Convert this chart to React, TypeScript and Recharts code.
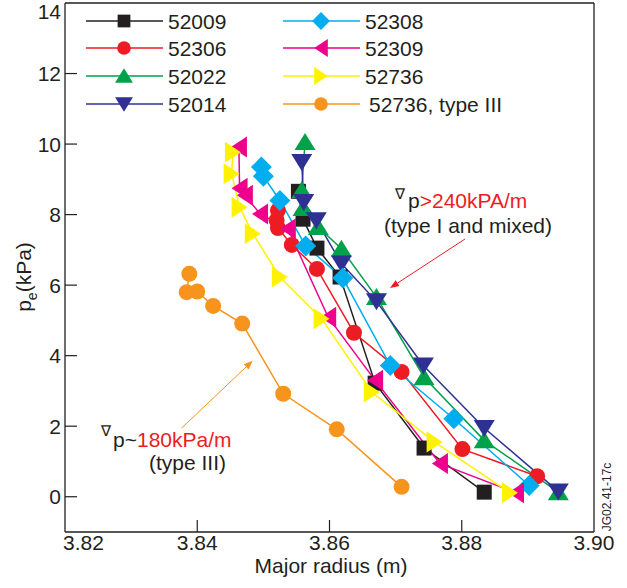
import React from 'react';
import { LineChart, Line, XAxis, YAxis, ReferenceLine } from 'recharts';

// series values (major radius in m, pe in kPa)
const x52009 = [3.8553, 3.856, 3.8581, 3.8616, 3.8669, 3.8743, 3.8834];
const y52009 = [8.66, 7.87, 7.05, 6.23, 3.22, 1.38, 0.13];

const x52306 = [3.8522, 3.852, 3.8522, 3.8543, 3.8581, 3.8637, 3.8709, 3.8801, 3.8914];
const y52306 = [8.12, 7.84, 7.62, 7.14, 6.46, 4.65, 3.54, 1.35, 0.58];

const x52022 = [3.8563, 3.8558, 3.856, 3.8583, 3.8618, 3.8671, 3.8743, 3.8834, 3.8946];
const y52022 = [10.06, 8.69, 8.19, 7.65, 7.03, 5.66, 3.39, 1.6, 0.13];

const x52014 = [3.8558, 3.8561, 3.858, 3.8618, 3.8671, 3.8742, 3.8834, 3.8946];
const y52014 = [9.49, 8.36, 7.84, 6.61, 5.54, 3.72, 1.95, 0.15];

const x52308 = [3.8497, 3.85, 3.8525, 3.8564, 3.862, 3.8692, 3.8788, 3.8902];
const y52308 = [9.35, 9.09, 8.4, 7.11, 6.2, 3.72, 2.21, 0.32];

const x52309 = [3.8463, 3.8464, 3.8472, 3.8495, 3.8537, 3.8598, 3.8669, 3.8767, 3.8882];
const y52309 = [9.92, 8.75, 8.55, 8.02, 7.6, 5.09, 3.3, 0.94, 0.11];

const x52736 = [3.8454, 3.8452, 3.8464, 3.8484, 3.8525, 3.8588, 3.8664, 3.8759, 3.8873];
const y52736 = [9.77, 9.16, 8.21, 7.46, 6.23, 5.05, 2.97, 1.55, 0.11];

const x52736t3 = [3.8388, 3.8384, 3.84, 3.8424, 3.8468, 3.853, 3.8611, 3.8709];
const y52736t3 = [6.32, 5.8, 5.82, 5.41, 4.91, 2.92, 1.91, 0.28];

const xTicks = [3.82, 3.84, 3.86, 3.88, 3.9];
const yTicks = [0, 2, 4, 6, 8, 10, 12, 14];

const FONT = '"Liberation Sans", Arial, Helvetica, sans-serif';
const INK = '#231f20';

type Shape = 'square' | 'circle' | 'up' | 'down' | 'diamond' | 'left' | 'right';

const series: { name: string; xs: number[]; ys: number[]; color: string; shape: Shape }[] = [
  { name: '52009', xs: x52009, ys: y52009, color: INK, shape: 'square' },
  { name: '52306', xs: x52306, ys: y52306, color: '#ed1c24', shape: 'circle' },
  { name: '52022', xs: x52022, ys: y52022, color: '#00a14b', shape: 'up' },
  { name: '52014', xs: x52014, ys: y52014, color: '#2e3192', shape: 'down' },
  { name: '52308', xs: x52308, ys: y52308, color: '#00aeef', shape: 'diamond' },
  { name: '52309', xs: x52309, ys: y52309, color: '#ec008c', shape: 'left' },
  { name: '52736', xs: x52736, ys: y52736, color: '#fff200', shape: 'right' },
  { name: '52736, type III', xs: x52736t3, ys: y52736t3, color: '#f7941d', shape: 'circle' },
];

const Marker = ({ cx, cy, shape, color, k = 1 }: { cx: number; cy: number; shape: Shape; color: string; k?: number }) => {
  const pts = (arr: number[][]) => arr.map(([a, b]) => `${cx + a * k},${cy + b * k}`).join(' ');
  switch (shape) {
    case 'square':
      return <rect x={cx - 7.5 * k} y={cy - 7.5 * k} width={15 * k} height={15 * k} fill={color} />;
    case 'circle':
      return <circle cx={cx} cy={cy} r={8 * k} fill={color} />;
    case 'up':
      return <polygon points={pts([[0, -9], [10.5, 8], [-10.5, 8]])} fill={color} />;
    case 'down':
      return <polygon points={pts([[0, 9], [10.5, -8], [-10.5, -8]])} fill={color} />;
    case 'diamond':
      return <polygon points={pts([[0, -10.5], [10.5, 0], [0, 10.5], [-10.5, 0]])} fill={color} />;
    case 'left':
      return <polygon points={pts([[-8, 0], [8, -10.5], [8, 10.5]])} fill={color} />;
    case 'right':
      return <polygon points={pts([[8, 0], [-8, -10.5], [-8, 10.5]])} fill={color} />;
  }
  return null;
};

const YTick = (props: any) => {
  const { x, y, payload } = props;
  const v = payload.value;
  const ty = v === 14 ? y + 8 : y;
  return (
    <g>
      {v !== 14 && <line x1={x} x2={x + 12} y1={y} y2={y} stroke={INK} strokeWidth={1.2} />}
      <text x={x - 4} y={ty + 7.5} textAnchor="end" fontSize={21} fontFamily={FONT} fill={INK}>
        {v}
      </text>
    </g>
  );
};

const XTick = (props: any) => {
  const { x, y, payload } = props;
  const v = payload.value;
  const first = v === 3.82;
  const last = v === 3.9;
  return (
    <g>
      {!first && !last && <line x1={x} x2={x} y1={y} y2={y - 12} stroke={INK} strokeWidth={1.2} />}
      <text
        x={first ? x - 2 : x}
        y={y + 18}
        textAnchor={first ? 'start' : 'middle'}
        fontSize={21}
        fontFamily={FONT}
        fill={INK}
      >
        {v.toFixed(2)}
      </text>
    </g>
  );
};

const Arrow = ({ x1, y1, x2, y2, color }: { x1: number; y1: number; x2: number; y2: number; color: string }) => {
  const a = Math.atan2(y2 - y1, x2 - x1);
  const L = 9;
  const W = 3.5;
  const bx = x2 - L * Math.cos(a);
  const by = y2 - L * Math.sin(a);
  const px = -Math.sin(a) * W;
  const py = Math.cos(a) * W;
  return (
    <g>
      <line x1={x1} y1={y1} x2={bx} y2={by} stroke={color} strokeWidth={1} />
      <polygon points={`${x2},${y2} ${bx + px},${by + py} ${bx - px},${by - py}`} fill={color} />
    </g>
  );
};

const legendCols = [
  { x1: 86, x2: 163, mx: 124, tx: 168 },
  { x1: 283, x2: 360, mx: 321, tx: 365 },
];
const legendRows = [21, 48, 76, 104];

const Overlay = () => (
  <svg width={627} height={588} style={{ position: 'absolute', left: 0, top: 0, pointerEvents: 'none' }} fontFamily={FONT}>
    {series.map((s, i) => {
      const c = legendCols[Math.floor(i / 4)];
      const ry = legendRows[i % 4];
      return (
        <g key={s.name}>
          <line x1={c.x1} x2={c.x2} y1={ry} y2={ry} stroke={s.color} strokeWidth={1.5} />
          <Marker cx={c.mx} cy={ry} shape={s.shape} color={s.color} k={0.85} />
          <text x={s.name.includes('III') ? c.tx + 4 : c.tx} y={ry + 7.5} fontSize={21} fill={INK}>
            {s.name}
          </text>
        </g>
      );
    })}

    <text x={395} y={199} fontSize={15} fill={INK}>∇</text>
    <text x={408} y={208} fontSize={21} fill={INK}>
      p<tspan fill="#ed1c24">&gt;240kPA/m</tspan>
    </text>
    <text x={468} y={233} fontSize={21} fill={INK} textAnchor="middle">(type I and mixed)</text>
    <Arrow x1={465} y1={239} x2={390} y2={288} color="#ed1c24" />

    <text x={101} y={436} fontSize={15} fill={INK}>∇</text>
    <text x={113} y={447} fontSize={21} fill={INK}>
      p~<tspan fill="#ed1c24">180kPa/m</tspan>
    </text>
    <text x={187.5} y={470} fontSize={21} fill={INK} textAnchor="middle">(type III)</text>
    <Arrow x1={181.7} y1={428} x2={252.7} y2={360.7} color="#f7941d" />

    <text x={331} y={573} fontSize={21} fill={INK} textAnchor="middle">Major radius (m)</text>
    <text x={31} y={277} fontSize={21} fill={INK} textAnchor="middle" transform="rotate(-90 31 277)">
      p<tspan dy={6} fontSize={14}>e</tspan>
      <tspan dy={-6}>(kPa)</tspan>
    </text>
    <text x={611} y={497} fontSize={12} fill={INK} textAnchor="middle" transform="rotate(-90 611 497)">
      JG02.41-17c
    </text>
  </svg>
);

const App: React.FC = () => {
  return (
    <div style={{ position: 'absolute', left: 0, top: 0, width: 627, height: 588, background: '#fff' }}>
      <LineChart width={627} height={588} margin={{ top: 3, right: 33, bottom: 0, left: 0 }}>
        <XAxis
          type="number"
          dataKey="x"
          domain={[3.82, 3.9]}
          ticks={xTicks}
          interval={0}
          allowDataOverflow
          height={56}
          tickSize={0}
          tickMargin={0}
          tickLine={false}
          axisLine={{ stroke: INK, strokeWidth: 1.3 }}
          tick={<XTick />}
        />
        <YAxis
          type="number"
          domain={[-1, 14]}
          ticks={yTicks}
          interval={0}
          allowDataOverflow
          width={65}
          tickSize={0}
          tickMargin={0}
          tickLine={false}
          axisLine={{ stroke: INK, strokeWidth: 1.3 }}
          tick={<YTick />}
        />
        <ReferenceLine x={3.9} stroke={INK} strokeWidth={1.3} />
        <ReferenceLine y={14} stroke={INK} strokeWidth={1.3} />
        {series.map((s) => (
          <Line
            key={s.name}
            data={s.xs.map((x, i) => ({ x, y: s.ys[i] }))}
            dataKey="y"
            type="linear"
            stroke={s.color}
            strokeWidth={1.5}
            isAnimationActive={false}
            activeDot={false}
            dot={(p: any) => <Marker key={`${s.name}-${p.index}`} cx={p.cx} cy={p.cy} shape={s.shape} color={s.color} />}
          />
        ))}
      </LineChart>
      <Overlay />
    </div>
  );
};

export default App;
